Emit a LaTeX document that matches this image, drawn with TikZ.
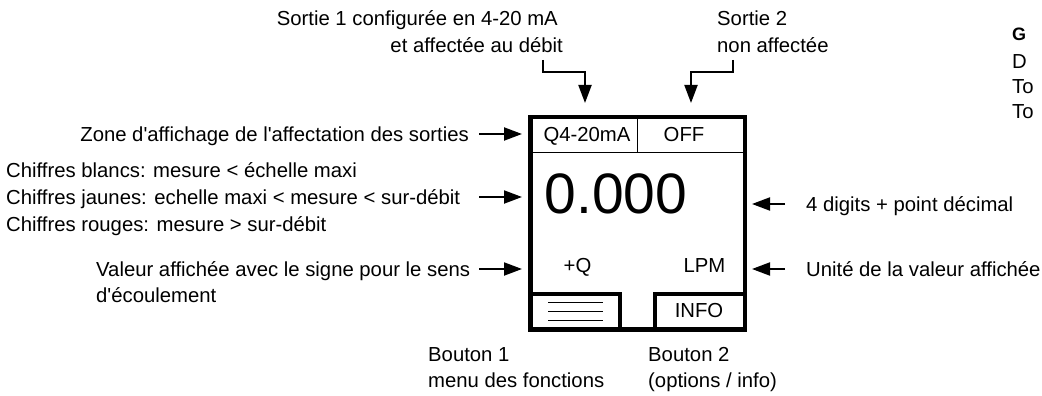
\documentclass[tikz,border=0pt]{standalone}
\usepackage{fontspec}
\setmainfont{Liberation Sans}[Ligatures=TeXOff]
\usetikzlibrary{arrows.meta}
\begin{document}
\begin{tikzpicture}[x=1pt,y=-1pt,
  lbl/.style={font=\fontsize{20.3}{24}\selectfont, inner sep=0pt, text height=14.6pt, text depth=0pt},
  side/.style={lbl, anchor=west},
  conn/.style={line width=2pt, -{Triangle[length=18pt,width=13pt]}},
  frame/.style={line width=4.5pt},
  thinline/.style={line width=1.2pt},
  menuline/.style={line width=1.5pt}]
\useasboundingbox (0,0) rectangle (1042,396);

% display frame
\draw[frame] (530.5,117) rectangle (745,329.5);
\draw[thinline] (532.5,152.5) -- (743,152.5);
\draw[thinline] (637.7,119) -- (637.7,152.5);
\draw[frame] (530.5,294) -| (620,329.5);
\draw[frame] (655,329.5) |- (745,294);
\draw[menuline] (548,302.7) -- (603,302.7);
\draw[menuline] (548,311.7) -- (603,311.7);
\draw[menuline] (548,320.7) -- (603,320.7);

% display contents
\node[lbl] (q420) at (587,134) {Q4-20mA};
\node[lbl] (off) at (684,134) {OFF};
\node[inner sep=0pt, font=\fontsize{57}{60}\selectfont, text height=41pt, text depth=0pt] (val0) at (616,192.5) {0.000};
\node[lbl] (pq) at (577.5,265) {+Q};
\node[lbl] (lpm) at (704.5,265) {LPM};
\node[lbl] (info) at (699,310) {INFO};

% top labels
\node[lbl, anchor=east] (s1a) at (558,18) {Sortie 1 configurée en 4-20 mA};
\node[lbl, anchor=east] (s1b) at (563,45) {et affectée au débit};
\node[lbl, anchor=west] (s2a) at (717,18) {Sortie 2};
\node[lbl, anchor=west] (s2b) at (717,45) {non affectée};
\coordinate (t1a) at (542.7,60);
\coordinate (t1b) at (585,103);
\coordinate (t2a) at (733,60);
\coordinate (t2b) at (691,103);
\draw[conn] (t1a) |- (585,72) -- (t1b);
\draw[conn] (t2a) |- (691,72) -- (t2b);

% left labels
\node[lbl, anchor=east] (zone) at (469,134) {Zone d'affichage de l'affectation des sorties};
\node[lbl, anchor=west] (cb) at (6,170) {Chiffres blancs: mesure < échelle maxi};
\node[lbl, anchor=west] (cj) at (6,197) {Chiffres jaunes: echelle maxi < mesure < sur-débit};
\node[lbl, anchor=west] (cr) at (6,224) {Chiffres rouges: mesure > sur-débit};
\node[lbl, anchor=west] (vs) at (96,269) {Valeur affichée avec le signe pour le sens};
\node[lbl, anchor=west] (ve) at (96,295) {d'écoulement};
\coordinate (zt) at (479,134);  \coordinate (zh) at (522,134);
\coordinate (ct) at (479,197);  \coordinate (ch) at (522,197);
\coordinate (vt) at (479,269);  \coordinate (vh) at (522,269);
\draw[conn] (zt) -- (zh);
\draw[conn] (ct) -- (ch);
\draw[conn] (vt) -- (vh);

% right labels
\node[lbl, anchor=west] (dig) at (806,204) {4 digits + point décimal};
\node[lbl, anchor=west] (uni) at (806,269) {Unité de la valeur affichée};
\coordinate (dt) at (785,204);  \coordinate (dh) at (752,204);
\coordinate (ut) at (785,269);  \coordinate (uh) at (752,269);
\draw[conn] (dt) -- (dh);
\draw[conn] (ut) -- (uh);

% bottom labels
\node[lbl, anchor=west] (b1a) at (428,354) {Bouton 1};
\node[lbl, anchor=west] (b1b) at (428,380) {menu des fonctions};
\node[lbl, anchor=west] (b2a) at (648,354) {Bouton 2};
\node[lbl, anchor=west] (b2b) at (648,380) {(options / info)};

% cut-off text at the right edge
\node[side, font=\fontsize{18}{21}\selectfont\bfseries, text height=13pt] (g) at (1012,34) {G};
\node[side] (d) at (1012,61) {D};
\node[side] (to1) at (1012,86) {To};
\node[side] (to2) at (1012,111) {To};
\end{tikzpicture}
\end{document}
